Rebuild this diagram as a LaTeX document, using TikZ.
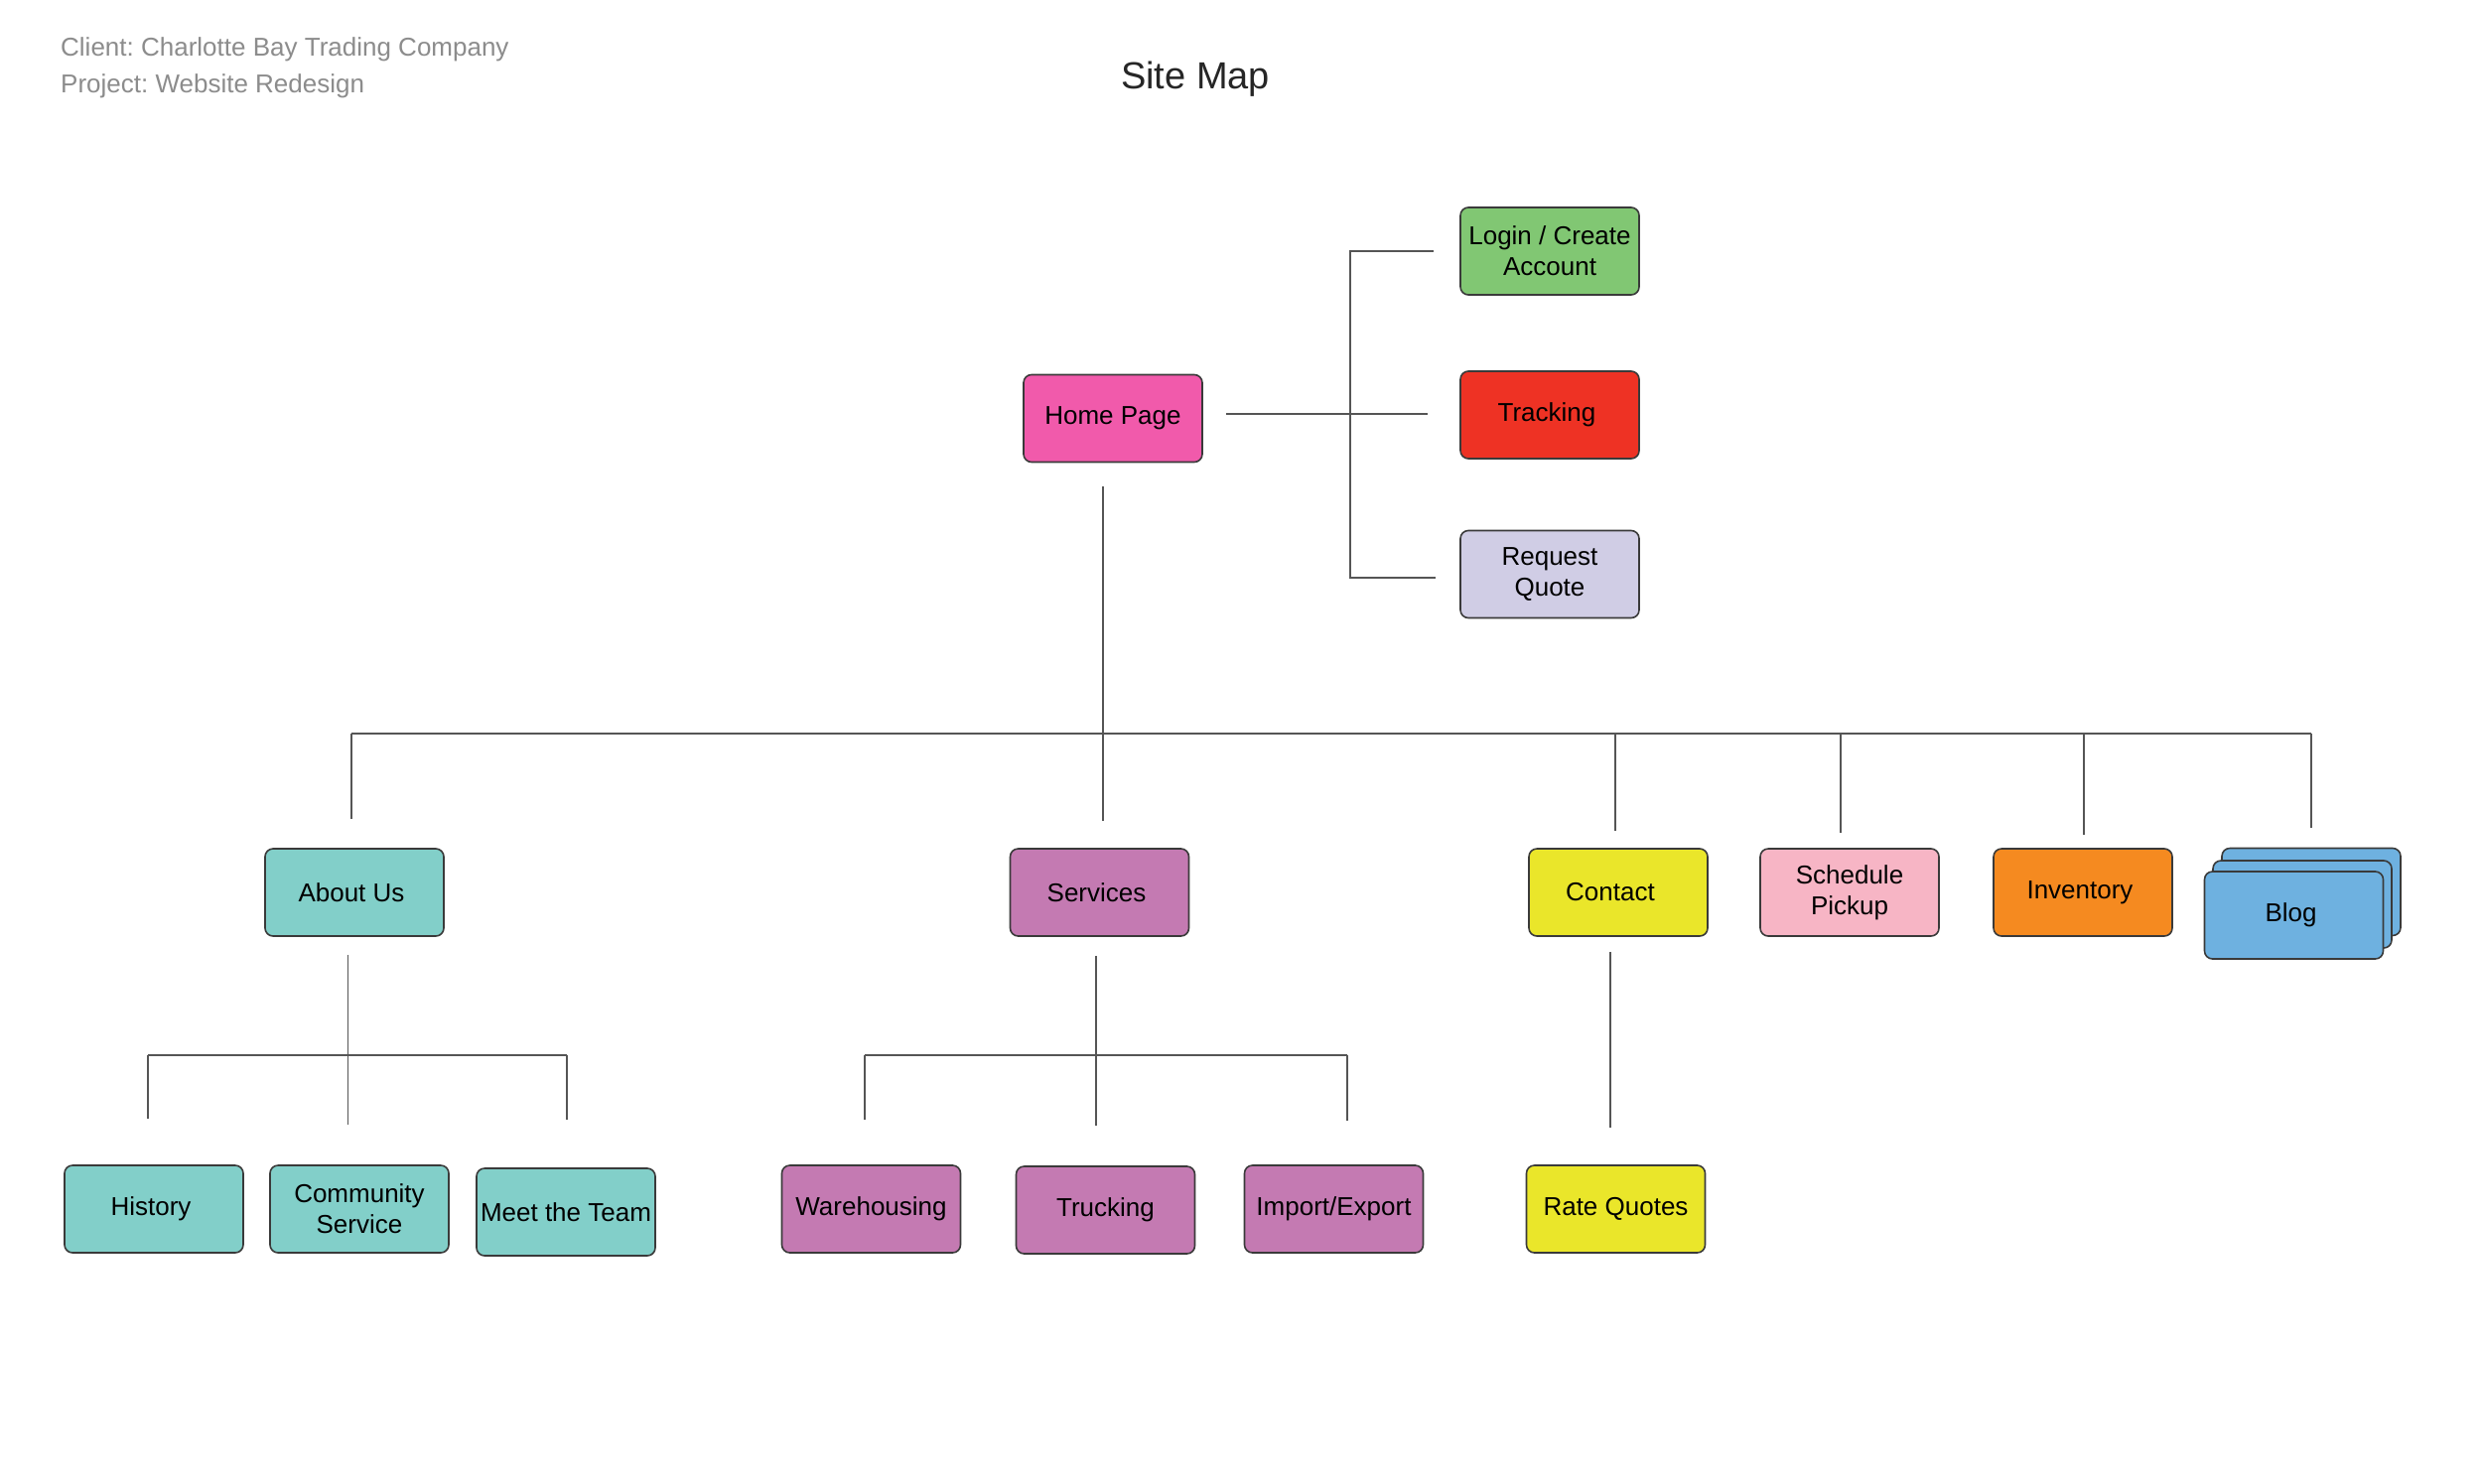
\documentclass[tikz,border=0pt]{standalone}
\usepackage{fontspec}
\setmainfont{Liberation Sans}
\frenchspacing
\definecolor{cHome}{HTML}{F15AAB}
\definecolor{cLogin}{HTML}{81C773}
\definecolor{cTrack}{HTML}{EE3224}
\definecolor{cQuote}{HTML}{D0CDE5}
\definecolor{cAbout}{HTML}{82CFC9}
\definecolor{cServ}{HTML}{C47AB2}
\definecolor{cContact}{HTML}{EAE62A}
\definecolor{cSched}{HTML}{F7B5C5}
\definecolor{cInv}{HTML}{F58A20}
\definecolor{cBlog}{HTML}{6EB1E0}
\definecolor{cHead}{HTML}{8C8C8C}
\definecolor{cLine}{HTML}{555555}
\definecolor{cBorder}{HTML}{3A3A3A}
\tikzset{
  pagebox/.style={draw=cBorder, line width=1.6pt, rounded corners=8pt,
    minimum width=180pt, minimum height=88pt, inner sep=0pt, align=center,
    font=\fontsize{26}{31}\selectfont, text=black},
  conn/.style={draw=cLine, line width=1.6pt},
  headtext/.style={font=\fontsize{26}{31}\selectfont, text=cHead, inner sep=0pt},
}
\begin{document}
\begin{tikzpicture}[x=1pt,y=-1pt]
\useasboundingbox (0,0) rectangle (2500,1494);
\fill[white] (0,0) rectangle (2500,1494);

% header
\node[headtext, anchor=base west] (client) at (61,56) {Client: Charlotte Bay Trading Company};
\node[headtext, anchor=base west] (project) at (61,93) {Project: Website Redesign};
\node[font=\fontsize{38}{44}\selectfont, text=black!85, inner sep=0pt, anchor=base] (title) at (1204,89) {Site Map};

% top level
\node[pagebox, fill=cHome] (home) at (1121,421.5) {Home Page};
\node[pagebox, fill=cLogin] (login) at (1561,253) {Login / Create\\Account};
\node[pagebox, fill=cTrack] (track) at (1561,418) {\hspace*{-6pt}Tracking};
\node[pagebox, fill=cQuote] (quote) at (1561,578.5) {Request\\Quote};

% second level
\node[pagebox, fill=cAbout] (about) at (357,899) {\hspace*{-6pt}About Us};
\node[pagebox, fill=cServ] (serv) at (1107.5,899) {\hspace*{-6pt}Services};
\node[pagebox, fill=cContact] (contact) at (1630,899) {\hspace*{-16pt}Contact};
\node[pagebox, fill=cSched] (sched) at (1863,899) {Schedule\\Pickup};
\node[pagebox, fill=cInv] (inv) at (2098,899) {\hspace*{-6pt}Inventory};
\node[pagebox, fill=cBlog] (blogc) at (2328,898.5) {};
\node[pagebox, fill=cBlog] (blogb) at (2319,911) {};
\node[pagebox, fill=cBlog] (blog) at (2310.5,922) {\hspace*{-6pt}Blog};

% third level
\node[pagebox, fill=cAbout] (history) at (155,1218) {\hspace*{-6pt}History};
\node[pagebox, fill=cAbout] (comm) at (362,1218) {Community\\Service};
\node[pagebox, fill=cAbout] (meet) at (570,1221) {Meet the Team};
\node[pagebox, fill=cServ] (ware) at (877.5,1218) {Warehousing};
\node[pagebox, fill=cServ] (truck) at (1113.5,1219) {Trucking};
\node[pagebox, fill=cServ] (impex) at (1343.5,1218) {Import/Export};
\node[pagebox, fill=cContact] (rate) at (1627.5,1218) {Rate Quotes};

% junction coordinates
\coordinate (hx) at (1360,253);
\coordinate (hy) at (1360,582);
\coordinate (busL) at (354,739);
\coordinate (busR) at (2328,739);
\coordinate (busC) at (1627,739);
\coordinate (busS) at (1854,739);
\coordinate (busI) at (2099,739);
\coordinate (aL) at (149,1063);
\coordinate (aR) at (571,1063);
\coordinate (sL) at (871,1063);
\coordinate (sR) at (1357,1063);

% home to utility pages
\draw[conn] ([shift={(23,-4.5)}]home.east) -- ([shift={(-32,-1)}]track.west);
\draw[conn] ([shift={(-26,0)}]login.west) -- (hx) -- (hy) -- ([shift={(-24,3.5)}]quote.west);

% home down to bus
\draw[conn] ([shift={(-10,24)}]home.south) -- ([shift={(-10,-27)}]serv.north -| home.south);
\draw[conn] (busL) -- (busR);
\draw[conn] (busL) -- ([shift={(-3,-29)}]about.north);
\draw[conn] (busC) -- ([shift={(-3,-17)}]contact.north);
\draw[conn] (busS) -- ([shift={(-9,-15)}]sched.north);
\draw[conn] (busI) -- ([shift={(1,-13)}]inv.north);
\draw[conn] (busR) -- ([shift={(0,-19.5)}]blogc.north);

% about us subtree
\draw[conn] ([shift={(-6.5,18)}]about.south) -- ([shift={(-11.5,-40)}]comm.north);
\draw[conn] (aL) -- (aR);
\draw[conn] (aL) -- ([shift={(-6,-46)}]history.north);
\draw[conn] (aR) -- ([shift={(1,-48)}]meet.north);

% services subtree
\draw[conn] ([shift={(-3.5,19)}]serv.south) -- ([shift={(-9.5,-40)}]truck.north);
\draw[conn] (sL) -- (sR);
\draw[conn] (sL) -- ([shift={(-6.5,-45)}]ware.north);
\draw[conn] (sR) -- ([shift={(13.5,-44)}]impex.north);

% contact subtree
\draw[conn] ([shift={(-8,15)}]contact.south) -- ([shift={(-5.5,-37)}]rate.north);
\end{tikzpicture}
\end{document}
